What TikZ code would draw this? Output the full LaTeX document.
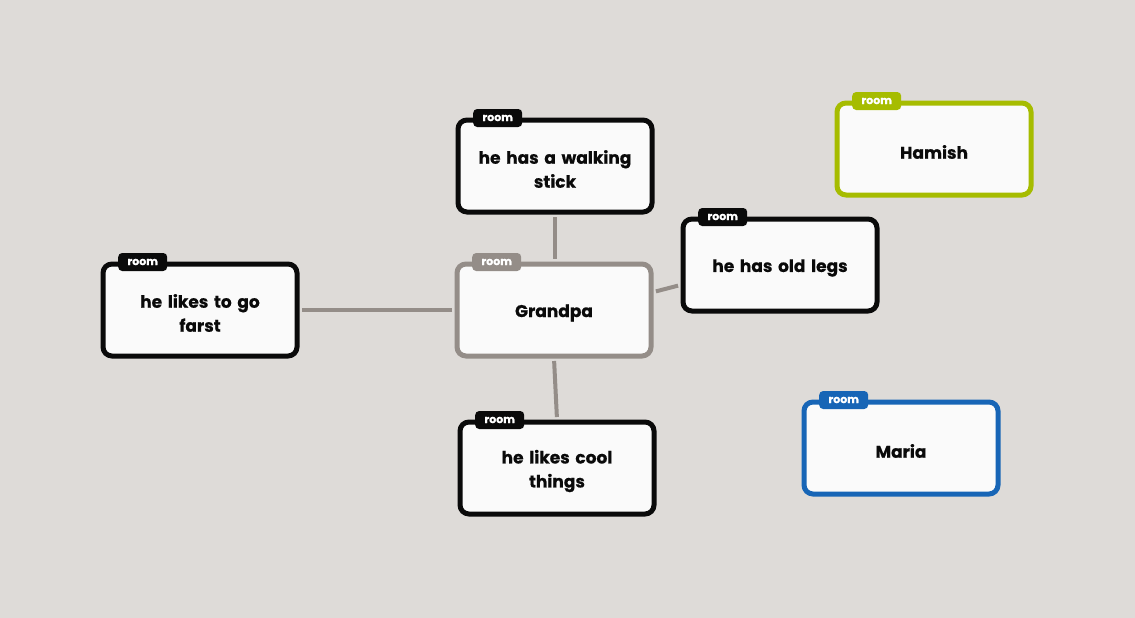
\documentclass[tikz,border=0pt]{standalone}
\usepackage{fontspec}
\setmainfont{Poppins}[BoldFeatures={FakeBold=0.6}]
\usepackage{tikz}
\usetikzlibrary{positioning,calc}
\definecolor{mapbg}{HTML}{DEDBD8}
\definecolor{mapwhite}{HTML}{FAFAFA}
\definecolor{mapgrey}{HTML}{948D88}
\definecolor{mapline}{HTML}{948D88}
\definecolor{mapgreen}{HTML}{A6BC00}
\definecolor{mapblue}{HTML}{1765B6}
\definecolor{mapink}{HTML}{0A0A0A}
\tikzset{
  ideaBox/.style={draw=#1, fill=mapwhite, line width=5pt, rounded corners=9pt, minimum width=194pt, minimum height=92pt},
  ideaText/.style={align=center, text width=184pt, font=\bfseries\fontsize{17}{24}\selectfont, text=mapink, yshift=-3pt},
  roomTag/.style={fill=#1, rounded corners=4pt, minimum width=49pt, minimum height=18pt, inner sep=0pt, text=white, font=\bfseries\fontsize{11}{12}\selectfont, anchor=west},
  linkLine/.style={draw=mapline, line width=4pt, shorten <=2.5pt, shorten >=2.5pt}
}
\begin{document}
\begin{tikzpicture}[x=1pt,y=-1pt]
  \fill[mapbg] (0,0) rectangle (1135,618);
  \useasboundingbox (0,0) rectangle (1135,618);
  % central idea and the ideas around it
  \node[ideaBox=mapgrey, label={[ideaText]center:Grandpa}] (grandpa) at (554,310) {};
  \node[ideaBox=mapink, label={[ideaText]center:he has a walking\\stick}] (stick) at (555,166) {};
  \node[ideaBox=mapink, label={[ideaText]center:he has old legs}] (legs) at (780,265) {};
  \node[ideaBox=mapink, label={[ideaText]center:he likes to go\\farst}] (farst) at (200,310) {};
  \node[ideaBox=mapink, label={[ideaText]center:he likes cool\\things}] (cool) at (557,468) {};
  \node[ideaBox=mapgreen, label={[ideaText]center:Hamish}] (hamish) at (934,149) {};
  \node[ideaBox=mapblue, label={[ideaText]center:Maria}] (maria) at (901,448) {};
  % room tags
  \foreach \idea/\col in {grandpa/mapgrey,stick/mapink,legs/mapink,farst/mapink,cool/mapink,hamish/mapgreen,maria/mapblue}
    \node[roomTag=\col] (\idea Tag) at ([xshift=17.5pt,yshift=-0.5pt]\idea.north west) {room};
  % links
  \draw[linkLine] (stick.south) -- (grandpa.north -| stick.south);
  \draw[linkLine] (grandpa.west) -- (farst.east);
  \draw[linkLine] ([yshift=18pt]grandpa.east) -- ([yshift=-20pt]legs.west);
  \draw[linkLine] (grandpa.south) -- (cool.north);
\end{tikzpicture}
\end{document}
